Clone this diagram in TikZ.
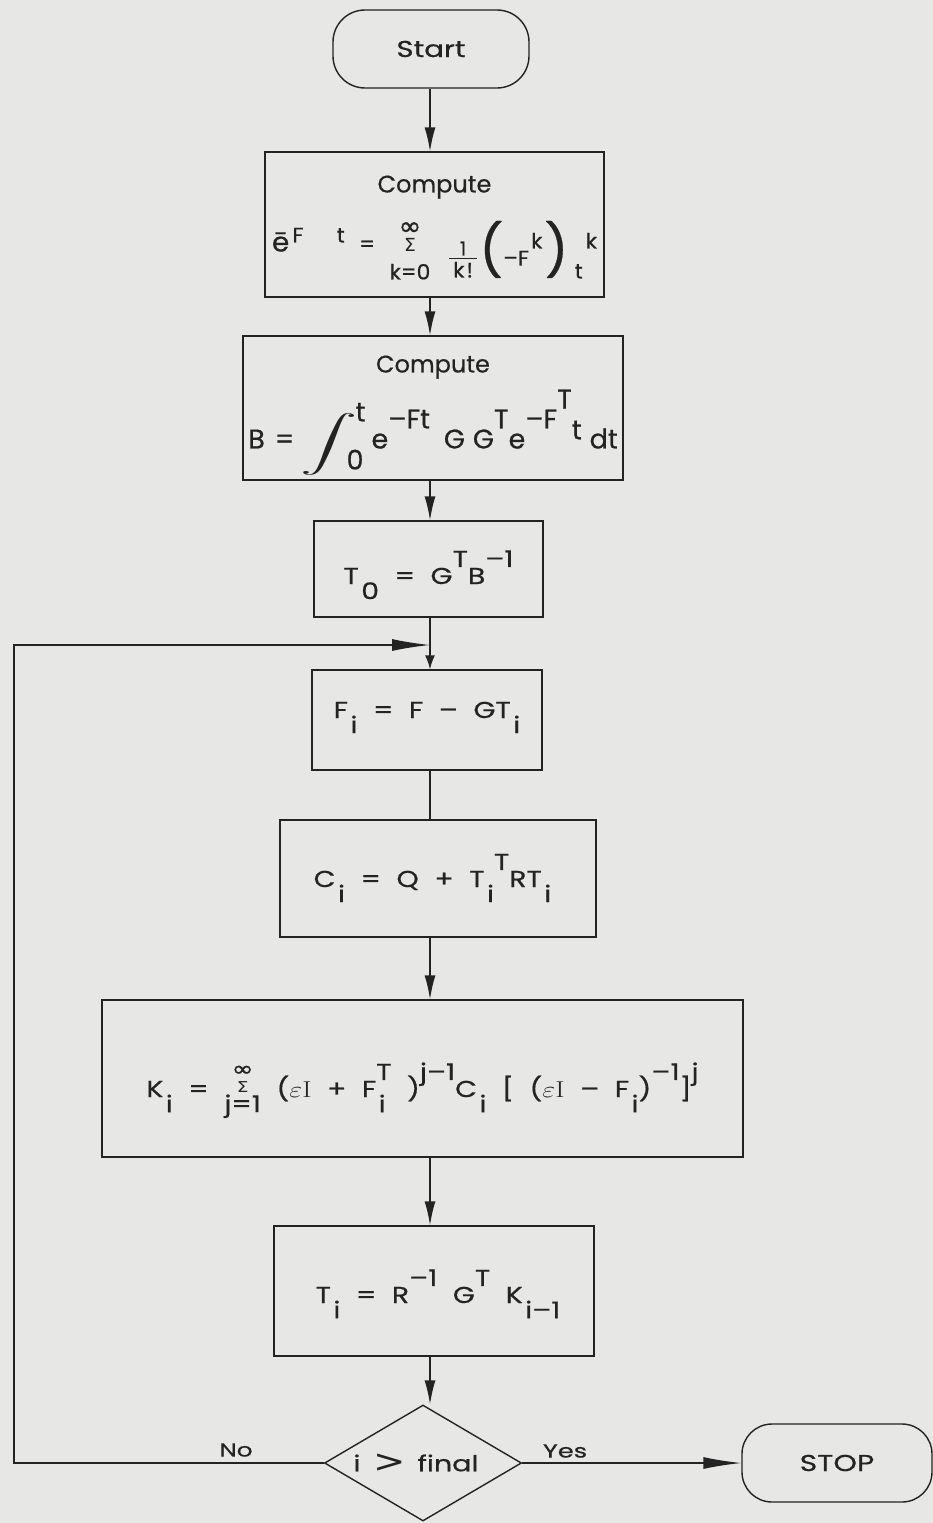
\documentclass[tikz,border=0pt]{standalone}
\usepackage{fix-cm}
\usepackage{amsmath}
\usepackage{fontspec}
\setsansfont{Poppins}[FakeBold=0.5]
\newfontfamily\dv{DejaVu Sans}
\newfontfamily\dvb{DejaVu Sans}[FakeBold=1.2]
\usetikzlibrary{shapes.geometric,arrows.meta}
\definecolor{paper}{RGB}{231,231,229}
\definecolor{ink}{RGB}{35,35,35}
\newcommand{\hi}[1]{\raisebox{0.74em}{#1}}
\newcommand{\lo}[1]{\kern2pt\raisebox{-0.66em}{#1}}
\newcommand{\ssub}[2]{\rlap{\lo{#1}}\hi{#2}}
\newcommand{\wsp}{\spaceskip=0.55em\relax}
\newcommand{\wide}[1]{\scalebox{1.23}[1]{#1}}
\newcommand{\sumstack}[6]{%
  \setbox0=\hbox{#4}%
  \makebox[\wd0][c]{%
    \makebox[0pt][c]{\raisebox{#1}{\dvb\fontsize{#5}{#5}\selectfont ∞}}%
    \makebox[0pt][c]{\raisebox{#2}{\dv\fontsize{#6}{#6}\selectfont Σ}}%
    \makebox[0pt][c]{\raisebox{#3}{#4}}}}
\newcommand{\bigp}[1]{\raisebox{-17pt}{\resizebox*{!}{57pt}{#1}}}
\newcommand{\fracx}[2]{%
  \makebox[27pt][c]{%
    \makebox[0pt][c]{\raisebox{-4pt}{\fontsize{19}{19}\selectfont #1}}%
    \makebox[0pt][c]{\raisebox{-7.5pt}{\rule{27pt}{1.4pt}}}%
    \makebox[0pt][c]{\raisebox{-26pt}{#2}}}}
\newcommand{\intx}{\raisebox{-4pt}{\scalebox{2.3}[1.12]{\rmfamily$\displaystyle\int$}}\kern-11pt\rlap{\kern9pt\raisebox{1.0em}{t}}\raisebox{-0.78em}{0}}
\begin{document}
\begin{tikzpicture}[x=1pt,y=-1pt,
  every node/.style={font=\sffamily\fontsize{24}{28}\selectfont, text=ink},
  box/.style={draw=ink, line width=1.4pt, fill=paper, inner sep=0pt, align=center},
  fbox/.style={box, font=\sffamily\fontsize{23}{28}\selectfont},
  term/.style={box, rounded corners=32pt},
  arr/.style={draw=ink, line width=1.4pt, -{Latex[length=24pt,width=11pt]}},
  smallarr/.style={draw=ink, line width=1.4pt, -{Latex[length=14pt,width=10pt]}},
  longarr/.style={draw=ink, line width=1.4pt, -{Latex[length=38pt,width=12pt]}},
  plainline/.style={draw=ink, line width=1.4pt}]
\fill[paper] (0,0) rectangle (933,1523);
\useasboundingbox (0,0) rectangle (933,1523);
\coordinate (sp) at (430,0);
\coordinate (lx) at (14,0);
\coordinate (loopin) at (430,645);

\node[term, minimum width=196pt, minimum height=78pt, font=\sffamily\fontsize{23}{28}\selectfont] (start) at (431,49) {\scalebox{1.27}[1]{Start}};
\node[box, minimum width=339pt, minimum height=145pt] (b1) at (434.5,224.5)
  {Compute\\[31pt]
   \smash{\scalebox{1.04}[1]{\fontsize{21}{25}\selectfont{\fontsize{27}{27}\selectfont\=e}\kern3pt\raisebox{9pt}{F\kern32pt t}\kern14pt=\kern14pt\sumstack{16.5pt}{0pt}{-28pt}{k=0}{26}{18}\kern18pt\fracx{1}{k\kern2pt!}\kern2pt\bigp{(}\raisebox{-14pt}{–F}\kern2pt\raisebox{3pt}{k}\kern2pt\bigp{)}\kern6pt\raisebox{-27pt}{t}\kern3pt\raisebox{3pt}{k}}}\rule[-22pt]{0pt}{22pt}};
\node[box, minimum width=380pt, minimum height=144pt] (b2) at (433,408)
  {Compute\\[48pt]
   \smash{\fontsize{27}{30}\selectfont B\kern10pt=\kern6pt\intx\kern8pt e\hi{–Ft}\kern14pt G\kern8pt G\hi{T}e\hi{–F\hi{T}\raisebox{-0.4em}{t}}\kern8pt dt}\rule[-12pt]{0pt}{12pt}};
\node[fbox, minimum width=229pt, minimum height=96pt, text height=30pt, text depth=0pt] (b3) at (428.5,569)
  {\wide{\wsp T\lo{0} = G\hi{T}B\hi{–1}}};
\node[fbox, minimum width=230pt, minimum height=100pt, text height=10pt, text depth=14pt] (b4) at (427,720)
  {\wide{\wsp F\lo{i} = F – GT\lo{i}}};
\node[fbox, minimum width=316pt, minimum height=117pt, text height=24pt, text depth=7pt] (b5) at (438,878.5)
  {\wide{\wsp C\lo{i} = Q + T\lo{i}\hi{T}RT\lo{i}}\kern11pt};
\node[fbox, minimum width=641pt, minimum height=157pt, text height=40pt, text depth=3pt] (b6) at (422.5,1078.5)
  {\wide{\wsp K\lo{i} =\ \sumstack{21pt}{5pt}{-15pt}{j=1}{21}{15} ({\rmfamily$\varepsilon$I} + F\ssub{i}{T}\ )\hi{j–1}C\lo{i} [ ({\rmfamily$\varepsilon$I} – F\lo{i})\hi{–1}]\hi{j}}};
\node[fbox, minimum width=320pt, minimum height=130pt, text height=28pt, text depth=4pt] (b7) at (434,1291)
  {\kern8pt\wide{\wsp T\lo{i} = R\hi{–1} G\hi{T} K\lo{i–1}}};
\node[draw=ink, line width=1.4pt, fill=paper, diamond, aspect=1.7, minimum width=197pt, minimum height=116pt, inner sep=0pt, font=\sffamily\fontsize{22}{26}\selectfont] (dia) at (423,1463)
  {\makebox[0pt][c]{\kern-14pt\raisebox{-5pt}{\scalebox{1.3}[1]{i\kern10pt\raisebox{-1pt}{\scalebox{1.35}[1.45]{\dv >}}\kern9pt final}}}};
\node[term, rounded corners=30pt, minimum width=190pt, minimum height=78pt, font=\sffamily\fontsize{23}{28}\selectfont] (stop) at (837,1463) {\scalebox{1.3}[1]{STOP}};

\draw[arr] (start.south -| sp) -- (b1.north -| sp);
\draw[arr] (b1.south -| sp) -- (b2.north -| sp);
\draw[arr] (b2.south -| sp) -- (b3.north -| sp);
\draw[smallarr] (b3.south -| sp) -- (b4.north -| sp);
\draw[plainline] (b4.south -| sp) -- (b5.north -| sp);
\draw[arr] (b5.south -| sp) -- (b6.north -| sp);
\draw[arr] (b6.south -| sp) -- (b7.north -| sp);
\draw[arr] (b7.south -| sp) -- (dia.north -| sp);
\draw[longarr] (dia.west) -- (dia.west -| lx) -- (lx |- loopin) -- (loopin);
\draw[longarr] (dia.east) -- (stop.west);
\node[font=\sffamily\fontsize{19}{22}\selectfont] (no) at (236,1450) {\scalebox{1.3}[1]{No}};
\node[font=\sffamily\fontsize{19}{22}\selectfont] (yes) at (565,1451) {\scalebox{1.35}[1]{Yes}};
\end{tikzpicture}
\end{document}
